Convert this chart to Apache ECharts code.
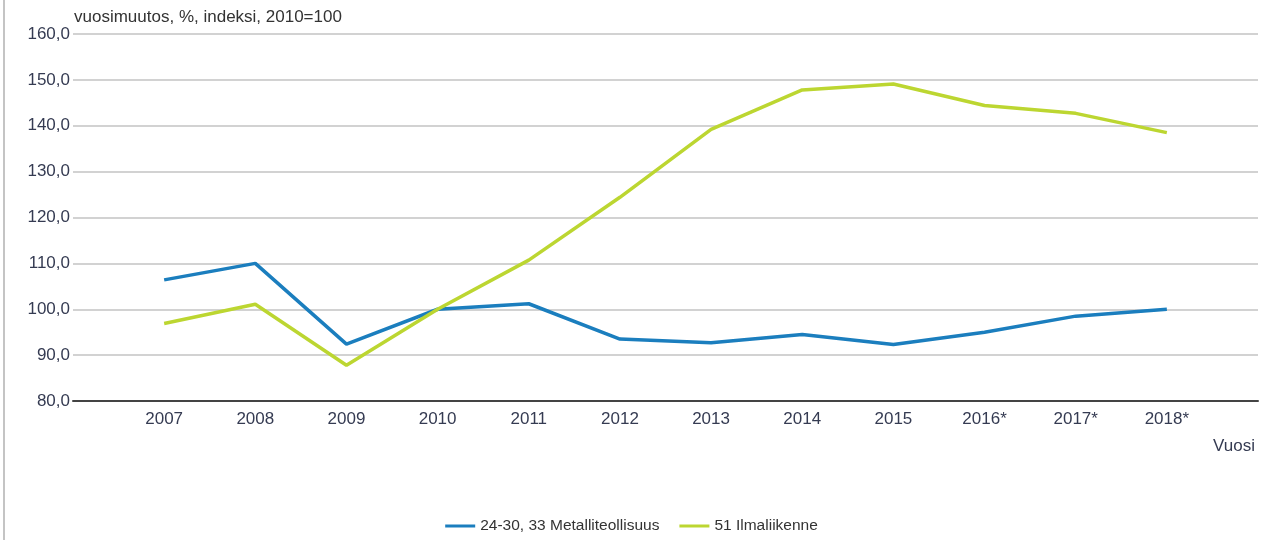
<!DOCTYPE html>
<html>
<head>
<meta charset="utf-8">
<script src="https://cdn.jsdelivr.net/npm/echarts@6/dist/echarts.min.js"></script>
<style>
html,body{margin:0;padding:0;background:#fff;}
#chart{width:1263px;height:540px;}
</style>
</head>
<body>
<div id="chart"></div>
<script>
var years = ["2007","2008","2009","2010","2011","2012","2013","2014","2015","2016*","2017*","2018*"];
var metalli = [106.4,110.0,92.4,100.0,101.2,93.5,92.7,94.5,92.3,95.0,98.5,100.0];
var ilmaliikenne = [96.9,101.1,87.8,100.0,110.7,124.4,139.2,147.8,149.1,144.4,142.7,138.5];
var seriesNames = ["24-30, 33 Metalliteollisuus","51 Ilmaliikenne"];
var colors = ["#1b7ebe","#bcd631"];

// tyhjä luokka alkuun ja loppuun, jotta vuodet asettuvat kuten kuvassa
var cats = [""].concat(years).concat([""]);
function pad(arr){
	return [null].concat(arr).concat([null]);
}

var mychart = echarts.init(document.getElementById("chart"));
var option = {
	color: colors,
	animation: false,
	textStyle: {fontFamily: "Liberation Sans, Arial, sans-serif"},
	grid: {left: 73, right: 5, top: 34, bottom: 139},
	legend: {
		bottom: 1,
		left: "center",
		icon: "rect",
		itemWidth: 30,
		itemHeight: 3,
		itemGap: 20,
		textStyle: {color: "#333", fontSize: 15.5},
		data: seriesNames
	},
	xAxis: {
		type: "category",
		boundaryGap: false,
		data: cats,
		name: "Vuosi",
		nameLocation: "end",
		nameGap: -3,
		nameTextStyle: {color: "#353b52", fontSize: 17, align: "right", verticalAlign: "top", padding: [37, 0, 0, 0]},
		axisLine: {lineStyle: {color: "#444", width: 2}},
		axisTick: {show: false},
		axisLabel: {color: "#353b52", fontSize: 17, margin: 10, interval: 0},
		splitLine: {show: false}
	},
	yAxis: {
		type: "value",
		min: 80,
		max: 160,
		interval: 10,
		name: "vuosimuutos, %, indeksi, 2010=100",
		nameGap: 5,
		nameTextStyle: {color: "#333", fontSize: 17, align: "left", padding: [0, 0, 0, 1]},
		axisLine: {show: false},
		axisTick: {show: false},
		axisLabel: {
			color: "#353b52",
			fontSize: 17,
			margin: 3,
			formatter: function(v){ return v.toFixed(1).replace(".", ","); }
		},
		splitLine: {lineStyle: {color: "#d2d2d2", width: 2}}
	},
	series: [
		{
			name: seriesNames[0],
			type: "line",
			data: pad(metalli),
			showSymbol: false,
			lineStyle: {width: 3.5, color: colors[0]}
		},
		{
			name: seriesNames[1],
			type: "line",
			data: pad(ilmaliikenne),
			showSymbol: false,
			lineStyle: {width: 3.5, color: colors[1]}
		}
	],
	graphic: [
		{type: "rect", left: 3, top: 0, shape: {width: 2, height: 540}, style: {fill: "#c4c4c4"}}
	]
};
mychart.setOption(option);
</script>
</body>
</html>
